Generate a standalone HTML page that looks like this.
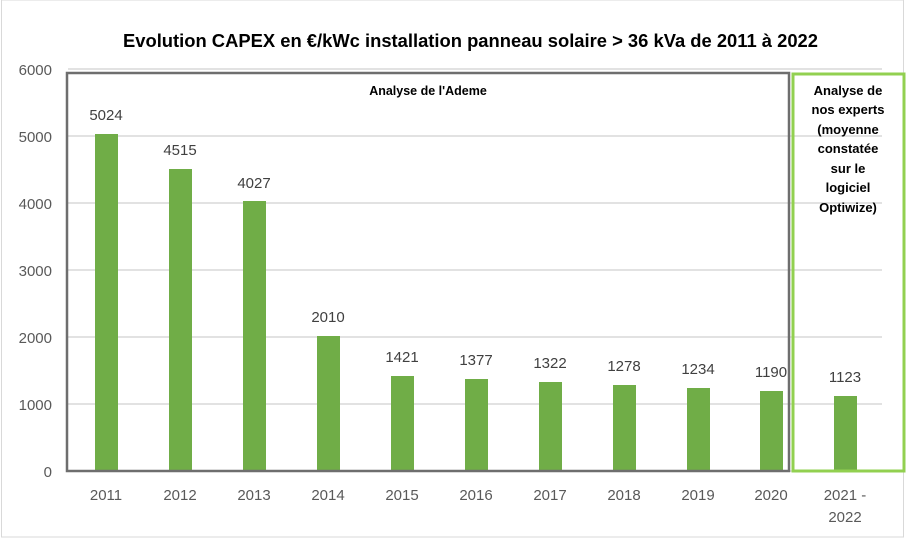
<!DOCTYPE html><html><head><meta charset="utf-8"><style>body{margin:0;background:#fff}</style></head><body>
<svg width="906" height="540" xmlns="http://www.w3.org/2000/svg" font-family="Liberation Sans, sans-serif">
<rect x="1.5" y="0" width="902" height="537" fill="#fff" stroke="#d9d9d9"/>
<text x="123" y="47" textLength="695" lengthAdjust="spacingAndGlyphs" font-size="18" font-weight="bold" fill="#000">Evolution CAPEX en €/kWc installation panneau solaire &gt; 36 kVa de 2011 à 2022</text>
<g stroke="#d0d0d0" stroke-width="1.3">
<line x1="68" x2="882" y1="69" y2="69"/><line x1="68" x2="882" y1="136" y2="136"/><line x1="68" x2="882" y1="203" y2="203"/><line x1="68" x2="882" y1="270" y2="270"/><line x1="68" x2="882" y1="337" y2="337"/><line x1="68" x2="882" y1="404" y2="404"/><line x1="68" x2="882" y1="471" y2="471"/>
</g>
<g font-size="15" fill="#595959" text-anchor="end">
<text x="52" y="75">6000</text><text x="52" y="142">5000</text><text x="52" y="209">4000</text><text x="52" y="276">3000</text><text x="52" y="343">2000</text><text x="52" y="410">1000</text><text x="52" y="477">0</text>
</g>
<g fill="#70ad47">
<rect x="95" y="134" width="23" height="337"/>
<rect x="169" y="169" width="23" height="302"/>
<rect x="243" y="201" width="23" height="270"/>
<rect x="317" y="336" width="23" height="135"/>
<rect x="391" y="376" width="23" height="95"/>
<rect x="465" y="379" width="23" height="92"/>
<rect x="539" y="382" width="23" height="89"/>
<rect x="613" y="385" width="23" height="86"/>
<rect x="687" y="388" width="23" height="83"/>
<rect x="760" y="391" width="23" height="80"/>
<rect x="834" y="396" width="23" height="75"/>
</g>
<g font-size="15" fill="#404040" text-anchor="middle">
<text x="106" y="120">5024</text><text x="180" y="155">4515</text><text x="254" y="188">4027</text><text x="328" y="322">2010</text><text x="402" y="362">1421</text><text x="476" y="365">1377</text><text x="550" y="368">1322</text><text x="624" y="371">1278</text><text x="698" y="374">1234</text><text x="771" y="377">1190</text><text x="845" y="382">1123</text>
</g>
<g font-size="15" fill="#595959" text-anchor="middle">
<text x="106" y="500">2011</text><text x="180" y="500">2012</text><text x="254" y="500">2013</text><text x="328" y="500">2014</text><text x="402" y="500">2015</text><text x="476" y="500">2016</text><text x="550" y="500">2017</text><text x="624" y="500">2018</text><text x="698" y="500">2019</text><text x="771" y="500">2020</text><text x="845" y="500">2021 -</text><text x="845" y="522">2022</text>
</g>
<rect x="67" y="73" width="722" height="398" fill="none" stroke="#6e6e6e" stroke-width="2.5"/>
<rect x="793" y="74" width="111" height="397" fill="none" stroke="#92d050" stroke-width="3"/>
<text x="428" y="95" text-anchor="middle" font-size="12.5" font-weight="bold">Analyse de l'Ademe</text>
<g font-size="13" font-weight="bold" text-anchor="middle">
<text x="848" y="95">Analyse de</text><text x="848" y="114">nos experts</text><text x="848" y="134">(moyenne</text><text x="848" y="153">constatée</text><text x="848" y="173">sur le</text><text x="848" y="192">logiciel</text><text x="848" y="212">Optiwize)</text>
</g>
</svg>
</body></html>
